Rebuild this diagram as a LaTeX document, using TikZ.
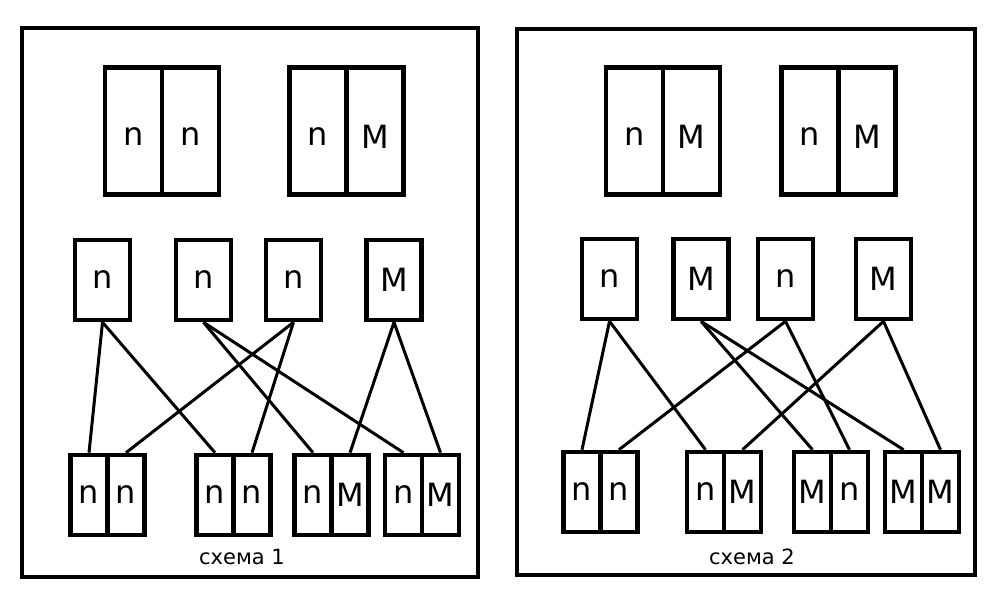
\documentclass[tikz,border=0pt]{standalone}
\usepackage{fontspec}
\setmainfont{DejaVu Sans}

\begin{document}
\begin{tikzpicture}[x=0.5pt,y=-0.5pt,
  frame/.style={line width=1.7pt},
  link/.style={line width=1.5pt},
  cell/.style={draw,line width=2.3pt,inner sep=0pt,font=\fontsize{16}{16}\selectfont},
  bigcell/.style={cell,minimum width=28.5pt,minimum height=63.5pt},
  onecell/.style={cell,minimum width=27.5pt,minimum height=40pt},
  paircell/.style={cell,minimum width=18.5pt,minimum height=40pt},
  caption/.style={font=\fontsize{10.5}{10.5}\selectfont}]
  \useasboundingbox (0,0) rectangle (1000,600);
  % frames
  \draw[frame] (22,28) rectangle (478,577);
  \draw[frame] (517,29) rectangle (975,575);
  % scheme 1
  \foreach \x/\l/\r [count=\i] in {133.5/n/n,318/n/M} {
    \node[bigcell] (p1ta\i) at (\x,131) {\raisebox{-3pt}[\height][0pt]{\l}};
    \node[bigcell] (p1tb\i) at (\x+57,131) {\raisebox{-3pt}[\height][0pt]{\r}};
  }
  \foreach \x/\l [count=\i] in {102.5/n,203.5/n,293.5/n,394/M}
    \node[onecell] (p1m\i) at (\x,280) {\l};
  \foreach \x/\l/\r [count=\i] in {89/n/n,215/n/n,313/n/M,403.5/n/M} {
    \node[paircell] (p1ba\i) at (\x,495) {\l};
    \node[paircell] (p1bb\i) at (\x+37,495) {\r};
  }
  \foreach \a/\b in {m1/ba1,m1/ba2,m2/ba3,m2/ba4,m3/bb1,m3/bb2,m4/bb3,m4/bb4}
    \draw[link] (p1\a.south) -- (p1\b.north);
  \node[caption] (cap1) at (242,557) {схема 1};
  % scheme 2
  \foreach \x/\l/\r [count=\i] in {634.5/n/M,810/n/M} {
    \node[bigcell] (p2ta\i) at (\x,131) {\raisebox{-3pt}[\height][0pt]{\l}};
    \node[bigcell] (p2tb\i) at (\x+57,131) {\raisebox{-3pt}[\height][0pt]{\r}};
  }
  \foreach \x/\l [count=\i] in {609.5/n,701/M,785.5/n,883.5/M}
    \node[onecell] (p2m\i) at (\x,279) {\l};
  \foreach \x/\l/\r [count=\i] in {582/n/n,705.5/n/M,812.5/M/n,903.5/M/M} {
    \node[paircell] (p2ba\i) at (\x,492) {\l};
    \node[paircell] (p2bb\i) at (\x+37,492) {\r};
  }
  \foreach \a/\b in {m1/ba1,m1/ba2,m2/ba3,m2/ba4,m3/bb1,m3/bb3,m4/bb2,m4/bb4}
    \draw[link] (p2\a.south) -- (p2\b.north);
  \node[caption] (cap2) at (752,557) {схема 2};
\end{tikzpicture}
\end{document}
